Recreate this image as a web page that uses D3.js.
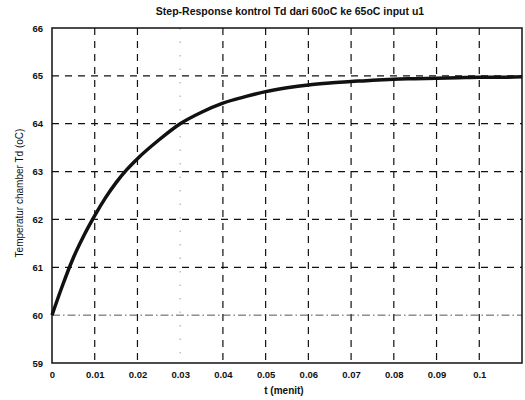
<!DOCTYPE html>
<html><head><meta charset="utf-8">
<script src="https://cdn.jsdelivr.net/npm/d3@7"></script>
<style>body{margin:0;background:#fff;} text{font-family:"Liberation Sans",Arial,sans-serif;}</style>
</head><body>
<svg id="c" width="525" height="400"></svg>
<script>
const title = "Step-Response kontrol Td dari 60oC ke 65oC input u1";
const xLabel = "t (menit)";
const yLabel = "Temperatur chamber Td (oC)";
const xTicks = [0, 0.01, 0.02, 0.03, 0.04, 0.05, 0.06, 0.07, 0.08, 0.09, 0.1];
const yTicks = [59, 60, 61, 62, 63, 64, 65, 66];
const tValues = [0, 0.0025, 0.005, 0.0075, 0.01, 0.0125, 0.015, 0.0175, 0.02, 0.025, 0.03, 0.035, 0.04, 0.045, 0.05, 0.055, 0.06, 0.065, 0.07, 0.075, 0.08, 0.085, 0.09, 0.095, 0.1, 0.105, 0.11];
const tdValues = [60, 60.63, 61.2, 61.67, 62.08, 62.45, 62.77, 63.04, 63.27, 63.66, 64.0, 64.24, 64.43, 64.56, 64.67, 64.75, 64.81, 64.85, 64.88, 64.91, 64.93, 64.94, 64.95, 64.96, 64.97, 64.97, 64.98];

const svg = d3.select("#c");
const L = 52, R = 522, T = 28, B = 363;
const x = d3.scaleLinear().domain([0, 0.11]).range([L, R]);
const y = d3.scaleLinear().domain([59, 66]).range([B, T]);

// grid
const g = svg.append("g");
g.selectAll("line.v").data(xTicks.slice(1)).enter().append("line")
  .attr("x1", d => x(d)).attr("x2", d => x(d)).attr("y1", T).attr("y2", B)
  .attr("stroke", d => d === 0.03 ? "#888" : "#111")
  .attr("stroke-width", d => d === 0.03 ? 0.8 : 1.2)
  .attr("stroke-dasharray", d => d === 0.03 ? "1.5,12" : "7,6");
g.selectAll("line.h").data(yTicks.slice(1, -1)).enter().append("line")
  .attr("x1", L).attr("x2", R).attr("y1", d => y(d)).attr("y2", d => y(d))
  .attr("stroke", d => d === 60 ? "#444" : "#111")
  .attr("stroke-width", d => d === 60 ? 0.9 : 1.2)
  .attr("stroke-dasharray", d => d === 60 ? "8,3,1.5,3" : "7,6");

// axes
const xAxis = d3.axisBottom(x).tickValues(xTicks).tickSize(0).tickPadding(8)
  .tickFormat(d => d === 0 ? "0" : d3.format("~g")(d));
const xa = svg.append("g").attr("transform", `translate(0,${B})`).call(xAxis);
const yAxis = d3.axisLeft(y).tickValues(yTicks).tickSize(0).tickPadding(9).tickFormat(d3.format("d"));
const ya = svg.append("g").attr("transform", `translate(${L},0)`).call(yAxis);
[xa, ya].forEach(a => {
  a.select(".domain").remove();
  a.selectAll("text").attr("font-size", 9.5).attr("font-weight", "bold").attr("fill", "#111")
    .attr("font-family", "Liberation Sans, Arial, sans-serif");
});

// frame
svg.append("rect").attr("x", L).attr("y", T).attr("width", R - L).attr("height", B - T)
  .attr("fill", "none").attr("stroke", "#111").attr("stroke-width", 1.5);

// curve
const line = d3.line().x((d, i) => x(tValues[i])).y(d => y(d)).curve(d3.curveMonotoneX);
svg.append("path").datum(tdValues).attr("d", line)
  .attr("fill", "none").attr("stroke", "#111").attr("stroke-width", 3.5);

// labels
svg.append("text").attr("x", 290).attr("y", 15).attr("text-anchor", "middle")
  .attr("font-size", 10.5).attr("font-weight", "bold").attr("fill", "#111").text(title);
svg.append("text").attr("x", 284).attr("y", 394).attr("text-anchor", "middle")
  .attr("font-size", 10).attr("font-weight", "bold").attr("fill", "#111").text(xLabel);
svg.append("text").attr("transform", "translate(23,193) rotate(-90)").attr("text-anchor", "middle")
  .attr("font-size", 10).attr("fill", "#111").text(yLabel);
</script>
</body></html>
